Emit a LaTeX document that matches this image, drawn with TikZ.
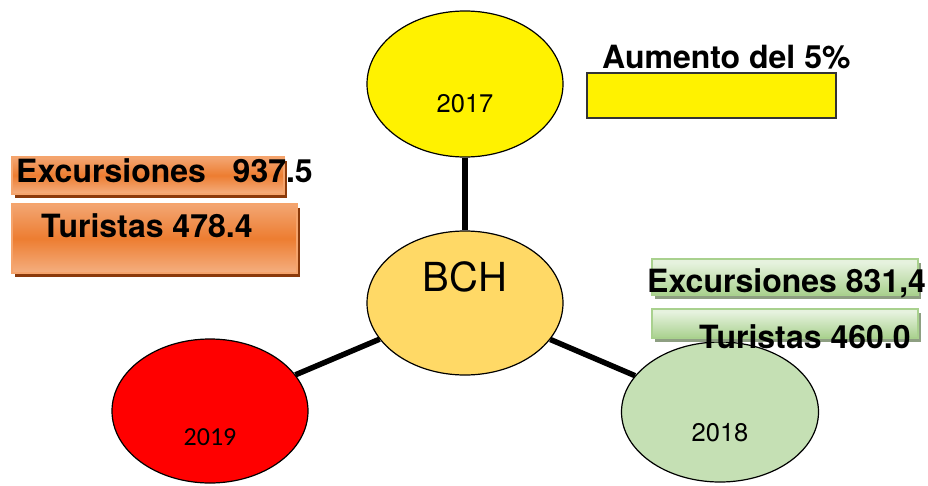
\documentclass[tikz,border=0pt]{standalone}
\usepackage{fontspec}
\setmainfont{TeX Gyre Heros}
\newfontfamily\calibfont{Carlito}
\usetikzlibrary{shapes.geometric}
\definecolor{bchfill}{HTML}{FFD966}
\definecolor{greenfill}{HTML}{C5E0B4}
\definecolor{oedge}{HTML}{F5A46C}
\definecolor{otop}{HTML}{F4AE80}
\definecolor{omid}{HTML}{ED7D31}
\definecolor{obot}{HTML}{F6B990}
\definecolor{oshadow}{HTML}{8B3A0B}
\definecolor{gedge}{HTML}{A9D18E}
\definecolor{gtop}{HTML}{E6F2DE}
\definecolor{gbot}{HTML}{A9D18E}
\definecolor{gshadow}{HTML}{8E9F82}
\pgfdeclareverticalshading{orangeshade}{100bp}{color(0bp)=(obot); color(20bp)=(obot); color(50bp)=(omid); color(80bp)=(otop); color(100bp)=(otop)}
\pgfdeclareverticalshading{greenshade}{100bp}{color(0bp)=(gbot); color(25bp)=(gbot); color(70bp)=(gtop); color(100bp)=(gtop)}
\begin{document}
\begin{tikzpicture}[x=1pt,y=-1pt,
  oval/.style={ellipse, draw=black, line width=1.2pt, inner sep=0pt},
  link/.style={line width=5.5pt, draw=black},
  boxbase/.style={rectangle, inner sep=0pt},
  obox/.style={boxbase, draw=oedge, line width=1.5pt, shading=orangeshade},
  oshad/.style={boxbase, fill=oshadow},
  gbox/.style={boxbase, draw=gedge, line width=1.2pt, shading=greenshade},
  gshad/.style={boxbase, fill=gshadow},
  ybox/.style={boxbase, draw=black!80, line width=1.3pt, fill=yellow},
  bigtxt/.style={inner sep=0pt, anchor=base west, font=\fontsize{32}{32}\selectfont\bfseries},
  yeartxt/.style={inner sep=0pt, font=\fontsize{25.5}{26}\selectfont},
]
\useasboundingbox (0,0) rectangle (928,485);

% ovals
\node[oval, fill=yellow, minimum width=196pt, minimum height=146pt] (e17) at (465,84) {};
\node[oval, fill=bchfill, minimum width=196pt, minimum height=144pt] (bch) at (465,303) {};
\node[oval, fill=red, minimum width=196pt, minimum height=144pt] (e19) at (210,411) {};
\node[oval, fill=greenfill, minimum width=197pt, minimum height=140pt] (e18) at (720,412) {};

% connectors
\draw[link] (e17) -- (bch);
\draw[link] (bch) -- (e19);
\draw[link] (bch) -- (e18);

% oval texts
\node[yeartxt] (t17) at (465,104) {2017};
\node[inner sep=0pt, font=\fontsize{40}{40}\selectfont] (tbch) at (465,277) {BCH};
\node[yeartxt, font=\calibfont\fontsize{26}{26}\selectfont] (t19) at (210,437) {2019};
\node[yeartxt] (t18) at (720,433) {2018};

% box shadows
\node[oshad, minimum width=272pt, minimum height=37pt] (ob1s) at (151,179.5) {};
\node[oshad, minimum width=285pt, minimum height=69pt] (ob2s) at (157.5,242.5) {};
\node[gshad, minimum width=266pt, minimum height=36pt] (gb1s) at (788,281) {};
\node[gshad, minimum width=266pt, minimum height=29pt] (gb2s) at (788,327.5) {};

% boxes
\node[obox, minimum width=272pt, minimum height=37pt] (ob1) at (148,175.5) {};
\node[obox, minimum width=285pt, minimum height=69pt] (ob2) at (154.5,238.5) {};
\node[gbox, minimum width=266pt, minimum height=36pt] (gb1) at (785,277) {};
\node[gbox, minimum width=266pt, minimum height=29pt] (gb2) at (785,323.5) {};
\node[ybox, minimum width=249pt, minimum height=45pt] (yb) at (711.5,95.5) {};

% box texts
\node[bigtxt] (exc1) at (16,182) {Excursiones\ \ \ 937.5};
\node[bigtxt] (tur1) at (41,237) {Turistas 478.4};
\node[bigtxt] (aum) at (602,68) {Aumento del 5\%};
\node[bigtxt] (exc2) at (647,292) {Excursiones 831,4};
\node[bigtxt] (tur2) at (699,348) {Turistas 460.0};
\end{tikzpicture}
\end{document}
